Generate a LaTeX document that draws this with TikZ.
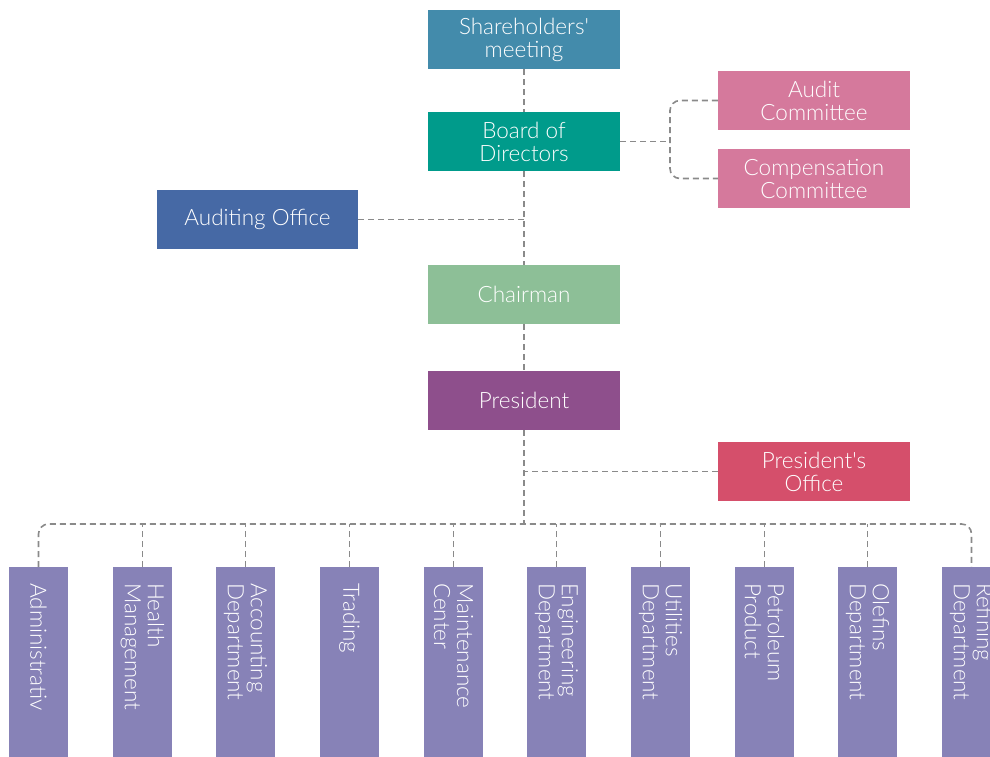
\documentclass[tikz,border=0pt]{standalone}
\usepackage{fontspec}
\setmainfont{Lato}[UprightFont=* Light]
\definecolor{cSh}{HTML}{438BAB}
\definecolor{cBd}{HTML}{009B8B}
\definecolor{cCom}{HTML}{D5799C}
\definecolor{cAo}{HTML}{4669A5}
\definecolor{cCh}{HTML}{8DBF97}
\definecolor{cPr}{HTML}{8E4F8C}
\definecolor{cPo}{HTML}{D54F6B}
\definecolor{cDep}{HTML}{8782B7}
\definecolor{cLine}{HTML}{8A8A8A}
\tikzset{
  box/.style={fill=#1, text=white, minimum width=192pt, minimum height=59pt, inner sep=0pt,
    align=center, font=\fontsize{22.5}{23}\selectfont},
  deptbox/.style={fill=cDep, minimum width=59pt, minimum height=220pt, inner sep=0pt, anchor=north},
  depttext/.style={text=white, rotate=-90, anchor=west, align=left, inner sep=0pt,
    font=\fontsize{22.5}{23}\selectfont},
  conn/.style={draw=cLine, line width=1.6pt, dash pattern=on 6pt off 4pt},
}
\begin{document}
\begin{tikzpicture}[x=1pt,y=-1pt]
\useasboundingbox (0,0) rectangle (990,756);
\clip (0,0) rectangle (990,756);
\node[box=cSh] (sh) at (524,39.5) {Shareholders\textquotesingle\\meeting};
\node[box=cBd] (bd) at (524,141.5) {Board of\\Directors};
\node[box=cCom] (ac) at (814,100.5) {Audit\\Committee};
\node[box=cCom] (cc) at (814,178.5) {Compensation\\Committee};
\node[box=cAo, minimum width=201pt] (ao) at (257.5,219.5) {Auditing Office};
\node[box=cCh] (ch) at (524,294.5) {Chairman};
\node[box=cPr] (pr) at (524,400.5) {President};
\node[box=cPo] (po) at (814,471.5) {President\textquotesingle s\\Office};

\foreach \i/\x/\t in {1/38.5/Administrativ, 2/142.5/{Health\\Management}, 3/245.5/{Accounting\\Department},
  4/349.5/Trading, 5/453.5/{Maintenance\\Center}, 6/556.5/{Engineering\\Department},
  7/660.5/{Utilities\\Department}, 8/764.5/{Petroleum\\Product}, 9/867.5/{Olefins\\Department},
  10/971.5/{Refining\\Department}} {
  \node[deptbox] (d\i) at (\x,567) {};
  \node[depttext] (d\i t) at (\x,583) {\t};
}

\coordinate (bus) at (524,524);
\coordinate (cj) at (670,141.5);

\draw[conn] (sh.south) -- (bd.north);
\draw[conn] (bd.south) -- (ch.north);
\draw[conn] (ao.east) -- (ao.east -| bd.south);
\draw[conn] (ch.south) -- (pr.north);
\draw[conn] (pr.south) -- (bus);
\draw[conn] (po.west) -- (po.west -| pr.south);
\draw[conn] (bd.east) -- (cj);
\draw[conn, rounded corners=10pt] (ac.west) -- (ac.west -| cj) -- (cc.west -| cj) -- (cc.west);
\draw[conn, rounded corners=10pt] (d1.north) -- (d1.north |- bus) -- (d10.north |- bus) -- (d10.north);
\foreach \i in {2,...,9} {
  \draw[conn] (d\i.north) -- (d\i.north |- bus);
}
\end{tikzpicture}
\end{document}
